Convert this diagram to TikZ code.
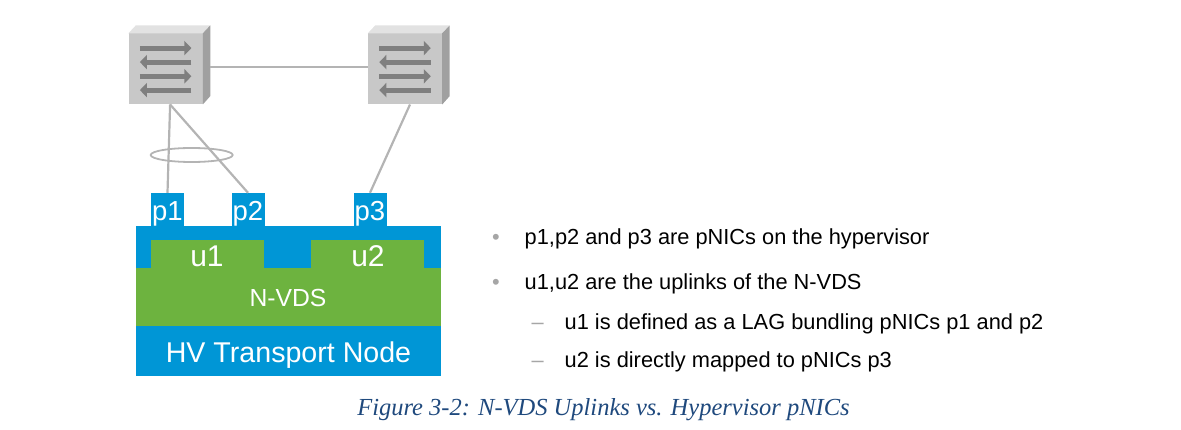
\documentclass[tikz,border=0pt]{standalone}
\usepackage{fontspec}
\setmainfont{Liberation Sans}
\newfontfamily\captionfont{Liberation Serif}
\usetikzlibrary{arrows.meta}
\usetikzlibrary{shapes}
\definecolor{hvblue}{HTML}{0096D6}
\definecolor{nvdsgreen}{HTML}{6DB33F}
\definecolor{linkgray}{HTML}{B4B4B4}
\definecolor{swfront}{HTML}{C8C8C8}
\definecolor{swtop}{HTML}{E2E2E2}
\definecolor{swside}{HTML}{A0A0A0}
\definecolor{swarrow}{HTML}{7F7F7F}
\definecolor{bulletgray}{HTML}{A6A6A6}
\definecolor{captionblue}{HTML}{1F497D}
\newcommand{\switchbox}[1]{
  \fill[swtop] (#1.north west) -- ++(7.5,8) -- ++(74,0) -- (#1.north east) -- cycle;
  \fill[swside] (#1.north east) -- ++(7.5,8) -- ++(0,-70.8) -- (#1.south east) -- cycle;
  \foreach \y in {14.8,43}
    \draw[swbar] ([xshift=11.5,yshift=-\y]#1.north west) -- ++(51.5,0);
  \foreach \y in {28.8,56.8}
    \draw[swbar] ([xshift=63,yshift=-\y]#1.north west) -- ++(-51.5,0);
}
\begin{document}
\begin{tikzpicture}[x=1pt,y=1pt]
\tikzstyle{switchfront}=[rectangle,fill=swfront,minimum width=74pt,minimum height=70.8pt,inner sep=0pt]
\tikzstyle{swbar}=[swarrow,line width=5pt,-{Triangle[length=7pt,width=14pt]}]
\tikzstyle{link}=[linkgray,line width=2.2pt]
\tikzstyle{blueblock}=[rectangle,fill=hvblue,inner sep=0pt,text=white]
\tikzstyle{greenblock}=[rectangle,fill=nvdsgreen,inner sep=0pt,text=white]
\tikzstyle{pnic}=[blueblock,minimum width=33pt,minimum height=33pt,text height=22pt,text depth=0pt,font=\fontsize{27.5}{30}\selectfont]
\tikzstyle{uplink}=[greenblock,minimum width=113pt,minimum height=40pt]
\tikzstyle{label}=[text=white,inner sep=0pt]
\tikzstyle{bullettext}=[anchor=base west,inner sep=0pt,font=\fontsize{21.8}{26}\selectfont]
\tikzstyle{bulletmark}=[bullettext,text=bulletgray]
\useasboundingbox (0,0) rectangle (1181,429);

% blocks, bottom to top
\node[blueblock,minimum width=305pt,minimum height=150pt] (hv) at (288.2,128) {};
\node[greenblock,minimum width=305pt,minimum height=58.3pt] (nvds) at (288.2,132.2) {};
\node[uplink] (u1) at (207.5,169) {};
\node[uplink] (u2) at (367.5,169) {};
\node[pnic] (p1) at (167.5,219.5) {p1};
\node[pnic] (p2) at (248,219.5) {p2};
\node[pnic] (p3) at (370,219.5) {p3};
\node[label,font=\fontsize{30}{33}\selectfont] (u1text) at (207,172.5) {u1};
\node[label,font=\fontsize{30}{33}\selectfont] (u2text) at (368,172.5) {u2};
\node[label,font=\fontsize{24.7}{28}\selectfont] (nvdstext) at (288,131) {N-VDS};
\node[label,font=\fontsize{28.6}{32}\selectfont] (hvtext) at (288.5,74) {HV Transport Node};

% switches
\node[switchfront] (sw1) at (165.6,360.1) {};
\node[switchfront] (sw2) at (405,360.1) {};
\switchbox{sw1}
\switchbox{sw2}
\coordinate (sw1down) at ([xshift=4.5]sw1.south);
\coordinate (sw2down) at ([xshift=5]sw2.south);
\coordinate (sw1right) at ([xshift=7.5,yshift=1.6]sw1.east);

% links
\draw[link] (sw1right) -- (sw2.west |- sw1right);
\draw[link] (sw1down) -- (p1.north);
\draw[link] (sw1down) -- (p2.north);
\draw[link] (sw2down) -- (p3.north);
\node[draw=linkgray,line width=1.8pt,ellipse,minimum width=82pt,minimum height=14pt,inner sep=0pt] (lag) at (191.7,274) {};

% bullets
\node[bulletmark] (b1) at (492,184.5) {•};
\node[bullettext] (t1) at (524.5,184.5) {p1,p2 and p3 are pNICs on the hypervisor};
\node[bulletmark] (b2) at (492,139.5) {•};
\node[bullettext] (t2) at (524.5,139.5) {u1,u2 are the uplinks of the N-VDS};
\node[bulletmark] (d1) at (531.5,100) {–};
\node[bullettext] (t3) at (564.5,100) {u1 is defined as a LAG bundling pNICs p1 and p2};
\node[bulletmark] (d2) at (531.5,61.8) {–};
\node[bullettext] (t4) at (564.5,61.8) {u2 is directly mapped to pNICs p3};

% caption
\node[anchor=base,inner sep=0pt,text=captionblue,font=\captionfont\itshape\fontsize{24.5}{29}\selectfont] (cap) at (603.5,14) {Figure 3-2: N-VDS Uplinks vs. Hypervisor pNICs};
\end{tikzpicture}
\end{document}
